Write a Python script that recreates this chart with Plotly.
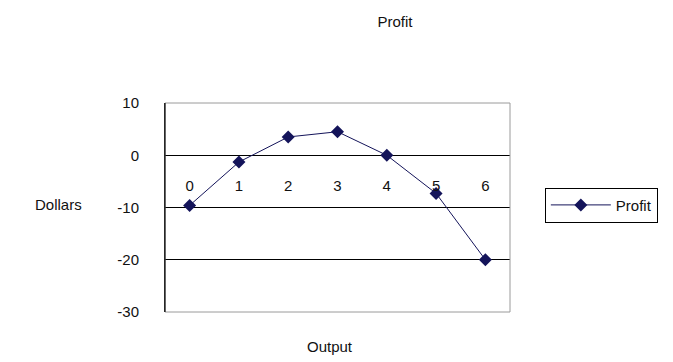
import plotly.graph_objects as go

# data
output = ['0', '1', '2', '3', '4', '5', '6']
profit = [-9.6, -1.3, 3.5, 4.5, 0, -7.3, -20]
y_ticks = [10, 0, -10, -20, -30]
y_labels = ['10', '0', '-10', '-20', '-30']

navy = '#14145a'
font = dict(family='Liberation Sans, Arial, sans-serif', size=15, color='#111111')

fig = go.Figure()
fig.add_trace(go.Scatter(x=output, y=profit, mode='lines+markers', name='Profit',
                         line=dict(color=navy, width=1),
                         marker=dict(symbol='diamond', size=10, color=navy)))

fig.update_layout(
    width=673, height=362,
    margin=dict(l=157, r=171, t=95, b=58),
    paper_bgcolor='white', plot_bgcolor='white',
    font=font,
    title=dict(text='Profit', x=387 / 673, xanchor='center', xref='container',
               y=1 - 14 / 362, yanchor='middle', font=dict(size=15)),
    showlegend=True,
    legend=dict(x=1.101, y=0.595, xanchor='left', yanchor='top',
                bordercolor='black', borderwidth=1, bgcolor='white',
                itemwidth=60, entrywidth=110, font=dict(size=15)),
)

fig.update_xaxes(type='category', range=[-0.5, 6.5], anchor='free', position=0.655,
                 showgrid=False, showline=False, ticks='', zeroline=False,
                 automargin=False, tickfont=dict(size=15))
fig.update_yaxes(range=[-30, 10], tickvals=y_ticks, ticktext=y_labels, showgrid=True,
                 gridcolor='black', gridwidth=1, zeroline=False, showline=True,
                 linecolor='black', ticks='', ticklabelstandoff=22, automargin=False,
                 tickfont=dict(size=15))

# grey plot frame
fig.add_shape(type='rect', xref='paper', yref='paper', x0=0, y0=0, x1=1, y1=1,
              line=dict(color='#9a9a9a', width=1), layer='above')
fig.add_shape(type='line', xref='paper', yref='paper', x0=0, y0=0, x1=0, y1=1,
              line=dict(color='black', width=1), layer='above')

fig.add_annotation(text='Dollars', xref='paper', yref='paper', x=-0.235, y=0.512,
                   xanchor='right', yanchor='middle', showarrow=False, font=dict(size=15))
fig.add_annotation(text='Output', xref='paper', yref='paper', x=0.478, y=-0.165,
                   xanchor='center', yanchor='middle', showarrow=False, font=dict(size=15))

fig.write_html("out.html")
